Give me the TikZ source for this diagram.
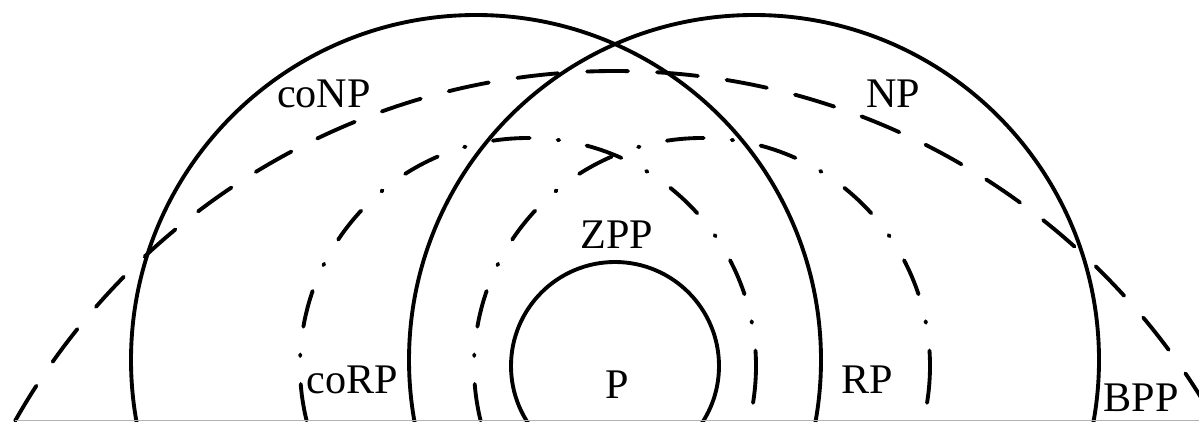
\documentclass[tikz,border=0pt]{standalone}
\usepackage{fontspec}
\setmainfont{Liberation Serif}
\usetikzlibrary{positioning}

\tikzset{
  classline/.style={line width=2.2pt, line cap=round},
  dashline/.style={classline, dash pattern=on 0.82cm off 0.58cm},
  dotline/.style={classline, dash pattern=on 0.74cm off 0.56cm on 0.03cm off 0.56cm},
  classname/.style={font=\fontsize{24}{24}\selectfont, inner sep=0pt, anchor=base},
}

\begin{document}
\begin{tikzpicture}[x=0.02cm, y=-0.02cm]

  \useasboundingbox (0,0) rectangle (1199,422);

  \begin{scope}
    \clip (0,0) rectangle (1199,421);

    % Solid circles: coNP, NP and P
    \draw[classline] (476,360) circle (345);
    \draw[classline] (754,360) circle (345);
    \draw[classline] (615,366) circle (104);

    % Dash-dot circles: coRP and RP
    \draw[dotline] (528,366) circle (228);
    \draw[dotline] (702,366) circle (228);

    % Dashed circle: BPP
    \draw[dashline] (615,760) circle (689);
  \end{scope}

  % Bottom line
  \draw[gray!60, line width=0.5pt] (15,420.5) -- (1199,420.5);

  % Class names
  \foreach \x/\y/\name/\txt in {
    324/108/conp/coNP,
    893/108/np/NP,
    617/248/zpp/ZPP,
    617/398/p/P,
    352/393/corp/coRP,
    867/393/rp/RP,
    1141/411/bpp/BPP}
    \node[classname] (\name) at (\x,\y) {\txt};

\end{tikzpicture}
\end{document}
